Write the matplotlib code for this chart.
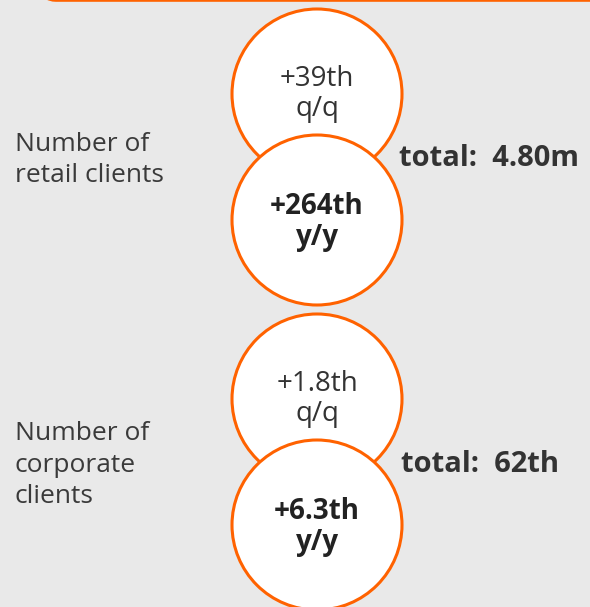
import matplotlib.pyplot as plt
from matplotlib.patches import Circle, FancyBboxPatch

# data
groups = ['Number of\nretail clients', 'Number of\ncorporate\nclients']
qq_change = ['+39th', '+1.8th']
yy_change = ['+264th', '+6.3th']
totals = ['total:  4.80m', 'total:  62th']

orange = '#FF6200'
bg = '#E9E9E9'
plt.rcParams['font.family'] = ['Open Sans', 'DejaVu Sans']

fig = plt.figure(figsize=(5.9, 6.07), dpi=100, facecolor=bg)
ax = fig.add_axes([0, 0, 1, 1])
ax.set_xlim(0, 590)
ax.set_ylim(607, 0)
ax.set_aspect('equal')
ax.axis('off')

# orange box cut off at the top
ax.add_patch(FancyBboxPatch((42, -60), 600, 60, boxstyle='round,pad=0,rounding_size=14',
                            fc='none', ec=orange, lw=2.6, clip_on=True))

cx, r = 317, 85
tops = [94, 399]
label_y = [160, 465]
total_x = [399, 401]

for i in range(len(groups)):
    cy1 = tops[i]
    cy2 = cy1 + 126
    ax.add_patch(Circle((cx, cy1), r, fc='white', ec=orange, lw=2.2, zorder=2))
    ax.add_patch(Circle((cx, cy2), r, fc='white', ec=orange, lw=2.2, zorder=3))
    ax.text(cx, cy1, qq_change[i] + '\nq/q', ha='center', va='center', fontsize=20,
            color='#333333', linespacing=1.1, zorder=4)
    ax.text(cx, cy2 + 2, yy_change[i] + '\ny/y', ha='center', va='center', fontsize=20,
            fontweight='bold', color='#222222', linespacing=1.1, zorder=4)
    ax.text(15, label_y[i], groups[i], ha='left', va='center', fontsize=19,
            color='#3a3a3a', linespacing=1.32)
    ax.text(total_x[i], label_y[i] - 1, totals[i], ha='left', va='center', fontsize=21,
            fontweight='bold', color='#333333')

plt.savefig('out.png', dpi=100, facecolor=bg)
